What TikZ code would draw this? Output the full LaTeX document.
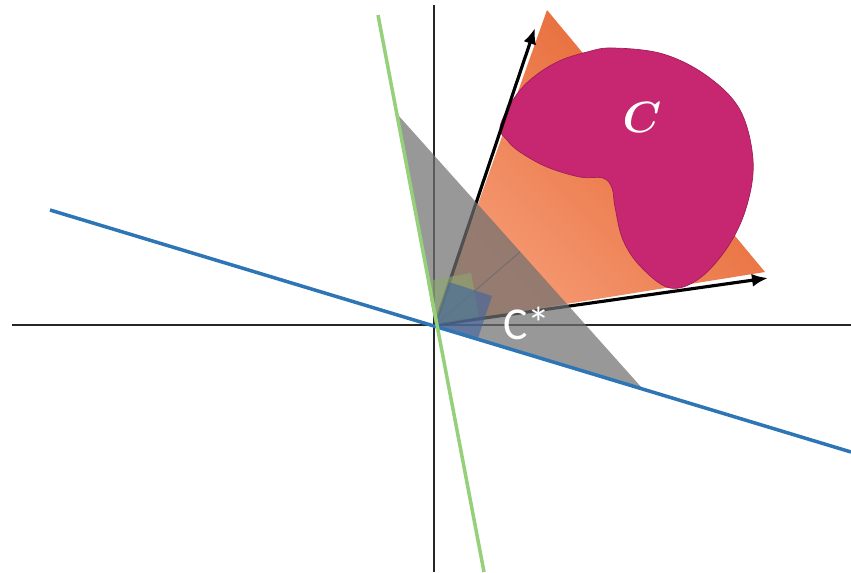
\documentclass[tikz,border=0pt]{standalone}
\usepackage{fontspec}
\newfontfamily\labelfont{Carlito}
\usepackage{tikz}
\usetikzlibrary{arrows.meta, calc}
\definecolor{blobpink}{RGB}{199,38,112}
\definecolor{orangelight}{RGB}{246,156,118}
\definecolor{orangedark}{RGB}{228,98,45}
\definecolor{lineblue}{RGB}{46,117,182}
\definecolor{linegreen}{RGB}{150,208,122}
\definecolor{dualgray}{RGB}{112,112,112}
\definecolor{sqgreen}{RGB}{140,168,112}
\definecolor{sqblue}{RGB}{62,100,160}

\begin{document}
\begin{tikzpicture}[
    x=0.02cm, y=-0.02cm,
    axis/.style={
        draw=black!85,
        line width=1.35pt
    },
    normal/.style={
        line width=2pt
    },
    generator/.style={
        -{Latex[length=3.2mm, width=2.6mm]},
        line width=1.8pt,
        draw=black
    },
    rightangle/.style={
        fill opacity=0.6,
        draw=none
    },
    label/.style={
        text=white,
        inner sep=0pt
    }
]
\useasboundingbox (0,0) rectangle (851,572);

% axes
\coordinate (O) at (435,325);
\coordinate (xl) at (12,325);
\coordinate (xr) at (851,325);
\coordinate (yt) at (434,5);
\coordinate (yb) at (434,572);
\draw[axis] (xl) -- (xr);
\draw[axis] (yt) -- (yb);

% the cone C lives in
\coordinate (ctop) at (547,10);
\coordinate (cright) at (765,272);
\shade[left color=orangedark, right color=orangelight, shading angle=-45]
    (O) -- (ctop) -- (cright) -- cycle;

% the set C
\filldraw[fill=blobpink, draw=blobpink!80!black, line width=0.4pt]
    plot[smooth cycle, tension=0.6] coordinates {
        (500,127) (513,100) (530,80) (557,62) (587,52) (613,48)
        (663,54) (707,76) (740,110) (753,160) (747,205) (729,245)
        (700,278) (670,288) (641,267) (623,240) (615,207) (612,188)
        (603,178) (580,177) (547,167) (520,152) (507,140)
    };
\node[label, font=\fontsize{30}{30}\selectfont\boldmath] (setC) at (642,117) {$C$};

% generators
\coordinate (g1) at (535,28);
\coordinate (g2) at (768,278);
\draw[generator] (O) -- (g1);
\draw[generator] (O) -- (g2);

% dual cone
\coordinate (dtop) at (398,115);
\coordinate (dright) at (642,388);
\fill[dualgray, fill opacity=0.72] (O) -- (dtop) -- (dright) -- cycle;
\coordinate (foot) at (520,252);
\draw[black!60, line width=0.5pt, opacity=0.7] (O) -- (foot);

% right-angle marks
\fill[rightangle, sqgreen] (O) -- (427,281) -- (471,273) -- (479,317) -- cycle;
\fill[rightangle, sqblue] (O) -- (449,282) -- (492,296) -- (478,338) -- cycle;

% normals
\coordinate (bl) at (50,210);
\coordinate (br) at (851,452);
\coordinate (gt) at (378,15);
\coordinate (gb) at (484,572);
\draw[normal, lineblue] (bl) -- (br);
\draw[normal, linegreen] (gt) -- (gb);

\node[label, font=\labelfont\fontsize{26}{26}\selectfont] (dualC) at (527,323) {C*};

\end{tikzpicture}
\end{document}
